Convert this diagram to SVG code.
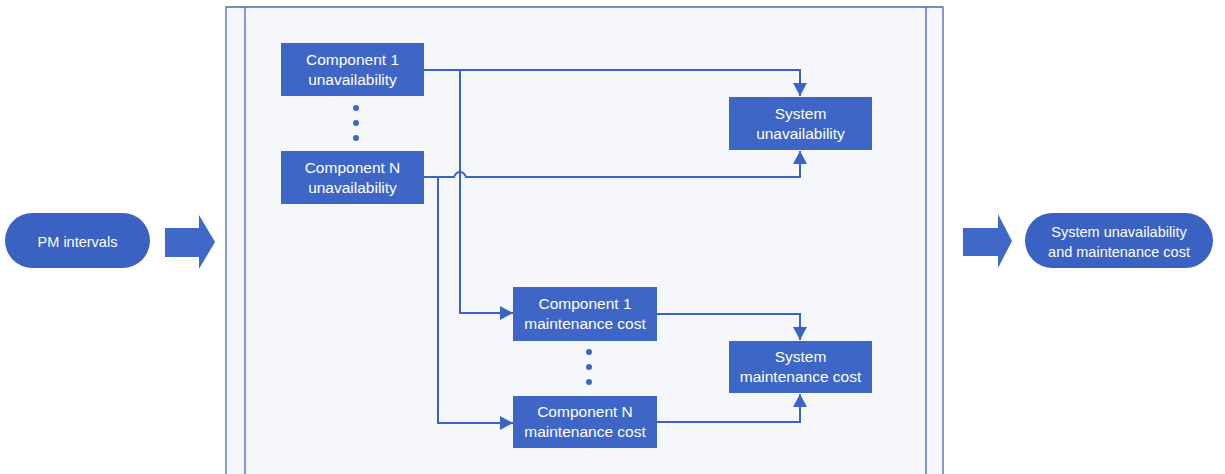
<svg xmlns="http://www.w3.org/2000/svg" width="1225" height="474" viewBox="0 0 1225 474">
  <style>
    .box { fill: #3d66c6; }
    .pill { fill: #3a62c2; }
    .blk { fill: #4068c8; }
    .t { font-family: "Liberation Sans", Arial, sans-serif; font-size: 15.5px; fill: #ffffff; text-anchor: middle; }
    .tp { font-family: "Liberation Sans", Arial, sans-serif; font-size: 14.5px; fill: #ffffff; text-anchor: middle; }
    .frame { fill: none; stroke: #4d65b0; stroke-width: 1.3; }
    .conn { fill: none; stroke: #3a63c4; stroke-width: 2; }
    .dot { fill: #3d66c6; }
  </style>
  <defs>
    <marker id="arr" markerUnits="userSpaceOnUse" markerWidth="14" markerHeight="14" viewBox="0 0 14 14" refX="13" refY="7" orient="auto">
      <path d="M0,0 L13,7 L0,14 Z" fill="#3a63c4"/>
    </marker>
  </defs>

  <rect width="1225" height="474" fill="#ffffff"/>

  <!-- process frame: open at the bottom -->
  <g id="frame">
    <rect x="226" y="7" width="717" height="467" fill="#f6f7fb"/>
    <path class="frame" d="M226,474 V7 H943 V474 M245,7 V474 M926,7 V474"/>
  </g>

  <!-- inputs / outputs -->
  <g id="pm-intervals">
    <rect class="pill" x="5" y="213" width="145" height="55" rx="27.5"/>
    <text class="tp" x="77.5" y="247">PM intervals</text>
  </g>
  <g id="input-arrow">
    <polygon class="blk" points="165,228 199,228 199,215 215,242 199,269 199,257 165,257"/>
  </g>
  <g id="output-arrow">
    <polygon class="blk" points="963,228 998,228 998,214 1012,241 998,268 998,256 963,256"/>
  </g>
  <g id="result">
    <rect class="pill" x="1025" y="213" width="188" height="55" rx="27.5"/>
    <text class="tp" x="1119" y="237">System unavailability</text>
    <text class="tp" x="1119" y="257">and maintenance cost</text>
  </g>

  <!-- connectors -->
  <g id="connectors">
    <path class="conn" d="M424,70 H800 V96" marker-end="url(#arr)"/>
    <path class="conn" d="M460,70 V313 H513" marker-end="url(#arr)"/>
    <path class="conn" d="M424,177 H454 Q456,172 460,172 Q464,172 466,177 H800 V151" marker-end="url(#arr)"/>
    <path class="conn" d="M438,177 V423 H513" marker-end="url(#arr)"/>
    <path class="conn" d="M657,314 H800 V340" marker-end="url(#arr)"/>
    <path class="conn" d="M657,422 H800 V394" marker-end="url(#arr)"/>
  </g>

  <!-- component unavailability nodes -->
  <g id="comp1-unavail">
    <rect class="box" x="281" y="43" width="143" height="53"/>
    <text class="t" x="352.5" y="65">Component 1</text>
    <text class="t" x="352.5" y="85">unavailability</text>
  </g>
  <g id="unavail-ellipsis">
    <circle class="dot" cx="356" cy="108" r="3"/>
    <circle class="dot" cx="356" cy="123" r="3"/>
    <circle class="dot" cx="356" cy="138" r="3"/>
  </g>
  <g id="compN-unavail">
    <rect class="box" x="281" y="151" width="143" height="53"/>
    <text class="t" x="352.5" y="173">Component N</text>
    <text class="t" x="352.5" y="193">unavailability</text>
  </g>

  <!-- component maintenance cost nodes -->
  <g id="comp1-cost">
    <rect class="box" x="513" y="287" width="144" height="54"/>
    <text class="t" x="585" y="309">Component 1</text>
    <text class="t" x="585" y="329">maintenance cost</text>
  </g>
  <g id="cost-ellipsis">
    <circle class="dot" cx="589" cy="352" r="3"/>
    <circle class="dot" cx="589" cy="367" r="3"/>
    <circle class="dot" cx="589" cy="382" r="3"/>
  </g>
  <g id="compN-cost">
    <rect class="box" x="513" y="396" width="144" height="52"/>
    <text class="t" x="585" y="417">Component N</text>
    <text class="t" x="585" y="437">maintenance cost</text>
  </g>

  <!-- system level nodes -->
  <g id="sys-unavail">
    <rect class="box" x="729" y="97" width="143" height="53"/>
    <text class="t" x="800.5" y="118.5">System</text>
    <text class="t" x="800.5" y="138.5">unavailability</text>
  </g>
  <g id="sys-cost">
    <rect class="box" x="729" y="341" width="143" height="52"/>
    <text class="t" x="800.5" y="362">System</text>
    <text class="t" x="800.5" y="382">maintenance cost</text>
  </g>
</svg>
